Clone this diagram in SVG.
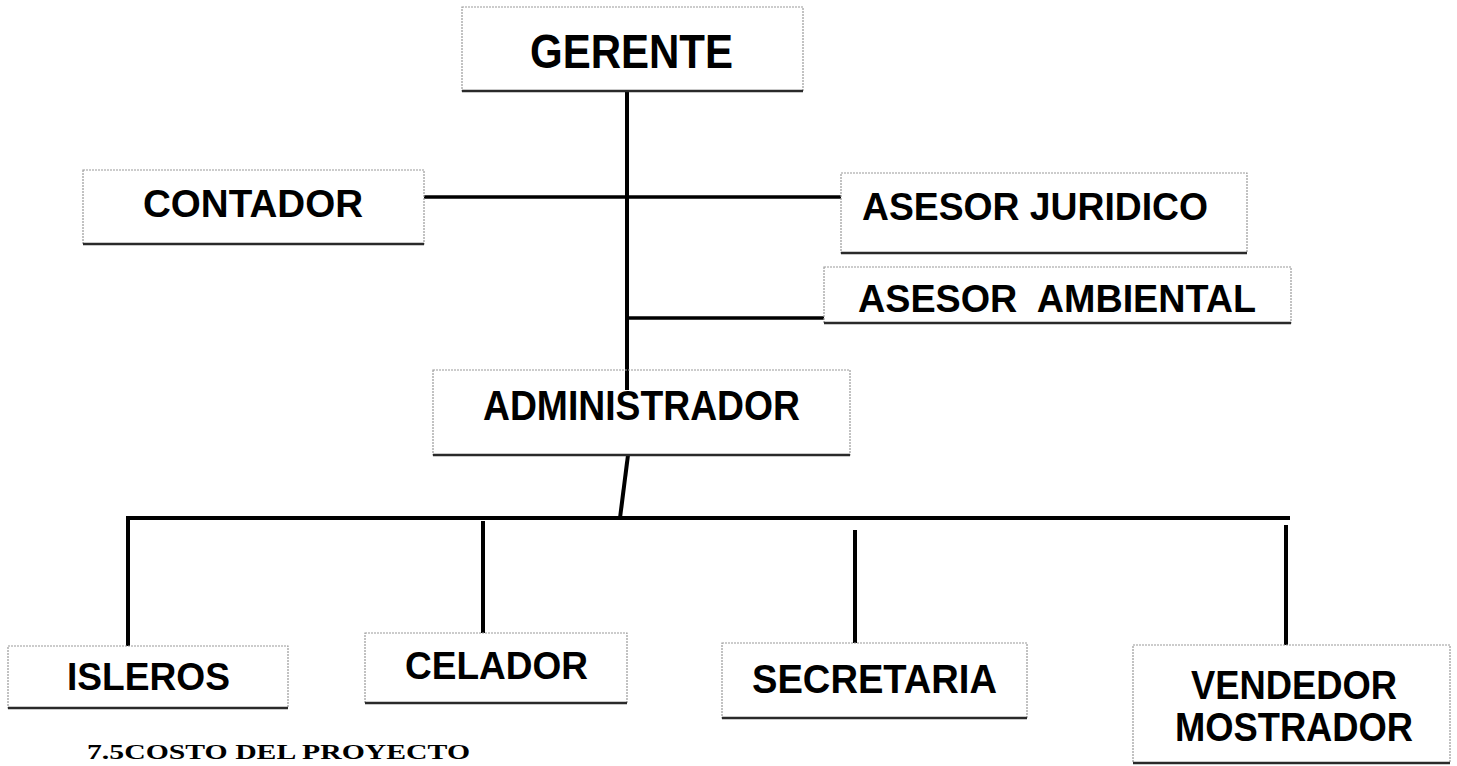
<svg xmlns="http://www.w3.org/2000/svg" width="1457" height="766" viewBox="0 0 1457 766">
<style>
.box{fill:#fff;stroke:#9a9a9a;stroke-width:1.2;stroke-dasharray:2 1}
.shadow{stroke:#2a2a2a;stroke-width:2.5;fill:none}
.lbl{font-family:"Liberation Sans",Arial,sans-serif;font-weight:bold;fill:#000;text-anchor:start}
.conn line{stroke:#000;stroke-width:4;stroke-linecap:butt}
.foot{font-family:"Liberation Serif","Times New Roman",serif;font-weight:bold;font-size:22px;fill:#000}
</style>
<rect width="1457" height="766" fill="#fff"/>
<g class="conn" id="connectors">
<line x1="627" y1="91" x2="627" y2="390"/>
<line x1="424" y1="197" x2="841" y2="197" style="stroke-width:3.5"/>
<line x1="627" y1="318" x2="824" y2="318" style="stroke-width:3.5"/>
<line x1="628" y1="455" x2="620" y2="518"/>
<line x1="126" y1="518" x2="1290" y2="518"/>
<line x1="128" y1="518" x2="128" y2="646"/>
<line x1="483" y1="521" x2="483" y2="633"/>
<line x1="855" y1="530" x2="855" y2="643"/>
<line x1="1286" y1="525" x2="1286" y2="645"/>
</g>
<g id="gerente">
<rect class="box" x="462" y="7" width="341" height="84"/>
<line class="shadow" x1="462" y1="91" x2="803" y2="91"/>
<text class="lbl" x="530" y="68" font-size="48" textLength="203" lengthAdjust="spacingAndGlyphs">GERENTE</text>
</g>
<g id="contador">
<rect class="box" x="83" y="170" width="341" height="74"/>
<line class="shadow" x1="83" y1="244" x2="424" y2="244"/>
<text class="lbl" x="143" y="217" font-size="39" textLength="220" lengthAdjust="spacingAndGlyphs">CONTADOR</text>
</g>
<g id="asesor-juridico">
<rect class="box" x="841" y="173" width="406" height="80"/>
<line class="shadow" x1="841" y1="253" x2="1247" y2="253"/>
<text class="lbl" x="862" y="220" font-size="38" textLength="346" lengthAdjust="spacingAndGlyphs">ASESOR JURIDICO</text>
</g>
<g id="asesor-ambiental">
<rect class="box" x="824" y="267" width="467" height="56"/>
<line class="shadow" x1="824" y1="323" x2="1291" y2="323"/>
<text class="lbl" x="858" y="312" font-size="38" textLength="398" lengthAdjust="spacingAndGlyphs" xml:space="preserve">ASESOR  AMBIENTAL</text>
</g>
<g id="administrador">
<rect class="box" x="433" y="370" width="417" height="85" style="fill:none"/>
<line class="shadow" x1="433" y1="455" x2="850" y2="455"/>
<text class="lbl" x="483" y="420" font-size="43" textLength="317" lengthAdjust="spacingAndGlyphs">ADMINISTRADOR</text>
</g>
<g id="isleros">
<rect class="box" x="8" y="646" width="280" height="62"/>
<line class="shadow" x1="8" y1="708" x2="288" y2="708"/>
<text class="lbl" x="67" y="690" font-size="39" textLength="163" lengthAdjust="spacingAndGlyphs">ISLEROS</text>
</g>
<g id="celador">
<rect class="box" x="365" y="633" width="262" height="70"/>
<line class="shadow" x1="365" y1="703" x2="627" y2="703"/>
<text class="lbl" x="405" y="679" font-size="39" textLength="183" lengthAdjust="spacingAndGlyphs">CELADOR</text>
</g>
<g id="secretaria">
<rect class="box" x="722" y="643" width="305" height="75"/>
<line class="shadow" x1="722" y1="718" x2="1027" y2="718"/>
<text class="lbl" x="752" y="693" font-size="41" textLength="245" lengthAdjust="spacingAndGlyphs">SECRETARIA</text>
</g>
<g id="vendedor-mostrador">
<rect class="box" x="1133" y="645" width="317" height="118"/>
<line class="shadow" x1="1133" y1="763" x2="1450" y2="763"/>
<text class="lbl" x="1191" y="699" font-size="41" textLength="206" lengthAdjust="spacingAndGlyphs">VENDEDOR</text>
<text class="lbl" x="1175" y="741" font-size="41" textLength="238" lengthAdjust="spacingAndGlyphs">MOSTRADOR</text>
</g>
<text class="foot" x="87" y="759" textLength="383" lengthAdjust="spacingAndGlyphs">7.5COSTO DEL PROYECTO</text>
</svg>
